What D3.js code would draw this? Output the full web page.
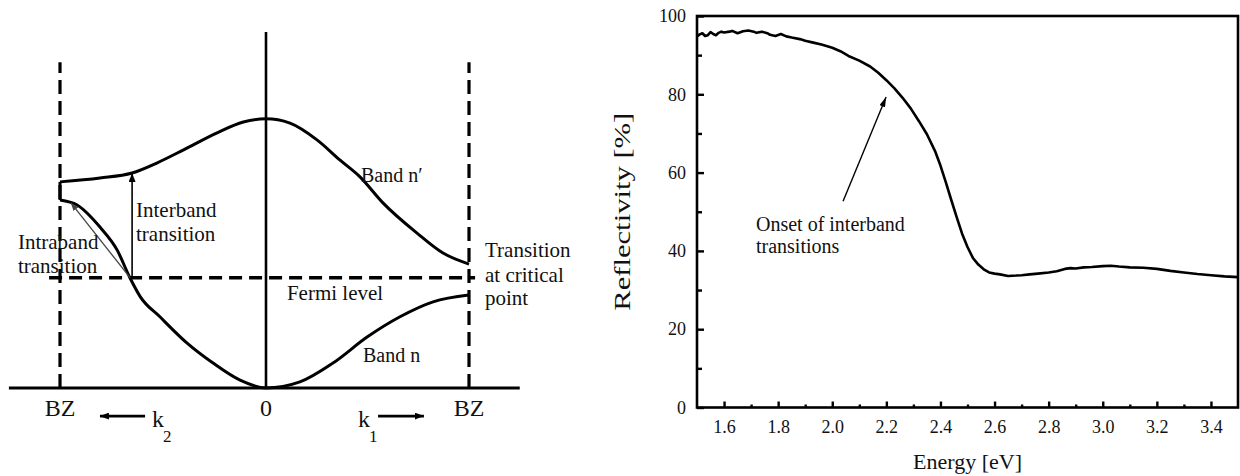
<!DOCTYPE html>
<html><head><meta charset="utf-8">
<script src="https://cdn.jsdelivr.net/npm/d3@7"></script>
<style>
html,body{margin:0;padding:0;background:#fff;}
svg{display:block;}
text{font-family:"Liberation Serif","DejaVu Serif",serif;fill:#111;}
</style></head><body>
<svg id="fig" width="1240" height="476" font-family="Liberation Serif, DejaVu Serif, serif"></svg>
<script>
// ---------- Left panel: schematic band structure E(k) ----------
// k runs from the left zone boundary (-1) through the zone centre (0) to the right boundary (+1)
const bandUpperK = [-1, -0.806, -0.65, -0.53, -0.40, -0.24, -0.11, 0, 0.118, 0.251, 0.365, 0.463, 0.576, 0.744, 0.872, 1];
const bandUpperE = [57.9, 59.0, 60.4, 63.2, 66.9, 71.6, 74.7, 75.6, 74.4, 69.7, 64.0, 59.3, 52.0, 43.5, 37.9, 34.8];
const bandLowerK = [-1, -0.917, -0.806, -0.723, -0.66, -0.61, -0.515, -0.383, -0.257, -0.126, 0, 0.167, 0.33, 0.498, 0.66, 0.823, 1];
const bandLowerE = [52.8, 51.4, 45.2, 38.8, 30.9, 25.6, 20.0, 12.6, 7.0, 2.2, 0, 1.7, 7.0, 14.3, 20.0, 24.2, 26.1];
const fermiE = 31;
const kTickValues = [-1, 0, 1];
const kTickLabels = ["BZ", "0", "BZ"];

// ---------- Right panel: measured reflectivity ----------
const energy = [1.50,1.51,1.52,1.53,1.54,1.55,1.56,1.57,1.58,1.59,1.60,1.62,1.63,1.65,1.67,1.69,1.71,1.72,1.74,1.76,1.77,1.79,1.81,1.83,1.85,1.88,1.90,1.93,1.96,2.00,2.03,2.06,2.10,2.14,2.17,2.20,2.23,2.26,2.29,2.32,2.35,2.38,2.40,2.42,2.44,2.46,2.48,2.50,2.52,2.54,2.56,2.58,2.60,2.62,2.65,2.68,2.70,2.73,2.76,2.80,2.83,2.86,2.88,2.90,2.93,2.96,3.00,3.03,3.06,3.10,3.15,3.20,3.25,3.30,3.35,3.40,3.45,3.50];
const reflectivity = [94.8,95.3,95.6,94.9,95.1,95.9,95.4,95.1,95.7,96.0,95.8,96.0,96.2,95.6,96.1,96.3,96.0,95.7,96.0,95.6,95.2,94.9,95.4,94.8,94.5,94.1,93.7,93.2,92.7,91.9,91.0,89.8,88.6,87.1,85.5,83.6,81.5,79.1,76.4,73.2,69.8,65.5,61.8,57.5,53.0,48.6,44.4,41.0,38.2,36.5,35.3,34.5,34.2,34.0,33.6,33.7,33.8,34.0,34.2,34.5,34.8,35.4,35.6,35.5,35.8,35.9,36.1,36.2,36.0,35.8,35.7,35.4,34.9,34.5,34.1,33.8,33.5,33.3];
const energyTicks = [1.6,1.8,2.0,2.2,2.4,2.6,2.8,3.0,3.2,3.4];
const energyMinorTicks = [1.7,1.9,2.1,2.3,2.5,2.7,2.9,3.1,3.3];
const reflTicks = [0,20,40,60,80,100];
const reflMinorTicks = [10,30,50,70,90];

const svg = d3.select("#fig");
const serif = '"Liberation Serif","DejaVu Serif",serif';

// arrowhead markers
const defs = svg.append("defs");
function marker(id, len, wid, color) {
  defs.append("marker").attr("id", id)
    .attr("viewBox", `0 ${-wid/2} ${len} ${wid}`)
    .attr("refX", len).attr("refY", 0)
    .attr("markerUnits", "userSpaceOnUse")
    .attr("markerWidth", len).attr("markerHeight", wid)
    .attr("orient", "auto")
    .append("path").attr("d", `M0,${-wid/2}L${len},0L0,${wid/2}Z`).attr("fill", color);
}
marker("headBlack", 9, 7, "#000");
marker("headGray", 8, 6, "#444");
marker("headAnno", 10, 6, "#000");

// ===== Left panel =====
const kx = d3.scaleLinear().domain([-1, 0, 1]).range([60, 266, 469]);
const ey = d3.scaleLinear().domain([0, 100]).range([388, 32]);
const L = svg.append("g");

// k axis (baseline)
L.append("line").attr("x1", kx(-1.248)).attr("x2", kx(1.25))
  .attr("y1", ey(0)).attr("y2", ey(0)).attr("stroke", "#000").attr("stroke-width", 3);
// zone-centre axis
L.append("line").attr("x1", kx(0)).attr("x2", kx(0))
  .attr("y1", ey(0)).attr("y2", ey(100)).attr("stroke", "#000").attr("stroke-width", 2.6);
// zone boundaries
[-1, 1].forEach(k => {
  L.append("line").attr("x1", kx(k)).attr("x2", kx(k))
    .attr("y1", ey(0)).attr("y2", ey(91.5))
    .attr("stroke", "#000").attr("stroke-width", 3.2).attr("stroke-dasharray", "14,7");
});
// Fermi level
L.append("line").attr("x1", kx(-1.053)).attr("x2", kx(1.03))
  .attr("y1", ey(fermiE)).attr("y2", ey(fermiE))
  .attr("stroke", "#000").attr("stroke-width", 3.5).attr("stroke-dasharray", "13,7");

// bands
const bandLine = d3.line().x(d => kx(d[0])).y(d => ey(d[1])).curve(d3.curveMonotoneX);
L.append("path").datum(d3.zip(bandUpperK, bandUpperE)).attr("d", bandLine)
  .attr("fill", "none").attr("stroke", "#000").attr("stroke-width", 3);
L.append("path").datum(d3.zip(bandLowerK, bandLowerE)).attr("d", bandLine)
  .attr("fill", "none").attr("stroke", "#000").attr("stroke-width", 3);
// gap at the left zone boundary
L.append("line").attr("x1", kx(-1)).attr("x2", kx(-1))
  .attr("y1", ey(bandLowerE[0])).attr("y2", ey(bandUpperE[0]))
  .attr("stroke", "#000").attr("stroke-width", 3);

// interband (vertical) transition
L.append("line").attr("x1", kx(-0.65)).attr("x2", kx(-0.65))
  .attr("y1", ey(fermiE)).attr("y2", ey(60.4))
  .attr("stroke", "#000").attr("stroke-width", 1.6).attr("marker-end", "url(#headBlack)");
// intraband transition
L.append("line").attr("x1", kx(-0.66)).attr("x2", kx(-0.947))
  .attr("y1", ey(fermiE)).attr("y2", ey(52.0))
  .attr("stroke", "#444").attr("stroke-width", 1.3).attr("marker-end", "url(#headGray)");

// zone labels
kTickValues.forEach((k, i) => {
  L.append("text").attr("x", kx(k)).attr("y", ey(-7.9)).attr("text-anchor", "middle")
    .attr("font-size", 24).text(kTickLabels[i]);
});
// k direction arrows
L.append("line").attr("x1", kx(-0.587)).attr("x2", kx(-0.806)).attr("y1", ey(-7.9)).attr("y2", ey(-7.9))
  .attr("stroke", "#000").attr("stroke-width", 2.6).attr("marker-end", "url(#headBlack)");
L.append("line").attr("x1", kx(0.552)).attr("x2", kx(0.778)).attr("y1", ey(-7.9)).attr("y2", ey(-7.9))
  .attr("stroke", "#000").attr("stroke-width", 2.6).attr("marker-end", "url(#headBlack)");
function kLabel(kk, sub, ks) {
  L.append("text").attr("x", kx(kk)).attr("y", ey(-11.0)).attr("font-size", 24).text("k");
  L.append("text").attr("x", kx(ks)).attr("y", ey(-15.2)).attr("font-size", 17).text(sub);
}
kLabel(-0.553, "2", -0.5);
kLabel(0.453, "1", 0.507);

// annotations
function multiline(g, k, es, lines, size) {
  lines.forEach((t, i) => g.append("text").attr("x", kx(k)).attr("y", ey(es[i])).attr("font-size", size).text(t));
}
multiline(L, 0.468, [57.9], ["Band n\u2032"], 20);
multiline(L, 0.478, [7.3], ["Band n"], 20);
multiline(L, 0.103, [24.7], ["Fermi level"], 21);
multiline(L, -0.631, [48.0, 41.3], ["Interband", "transition"], 21);
multiline(L, -1.204, [39.0, 32.3], ["Intraband", "transition"], 21);
multiline(L, 1.079, [36.8, 29.8, 23.3], ["Transition", "at critical", "point"], 21);

// ===== Right panel =====
const x = d3.scaleLinear().domain([1.5, 3.5]).range([697, 1238]);
const y = d3.scaleLinear().domain([0, 100]).range([407.5, 16]);
const R = svg.append("g");

function styleAxis(g, size) {
  g.select(".domain").remove();
  g.selectAll("line").attr("stroke", "#000").attr("stroke-width", 2.4);
  g.attr("font-family", serif).attr("font-size", size);
  g.selectAll("text").attr("fill", "#111");
}
R.append("g").attr("transform", `translate(0,${y(0)})`)
  .call(d3.axisBottom(x).tickValues(energyTicks).tickSize(-6).tickPadding(13).tickFormat(d3.format(".1f")))
  .call(g => styleAxis(g, 18));
R.append("g").attr("transform", `translate(0,${y(0)})`)
  .call(d3.axisBottom(x).tickValues(energyMinorTicks).tickSize(-3).tickFormat(""))
  .call(g => styleAxis(g, 18));
R.append("g").attr("transform", `translate(${x(1.5)},0)`)
  .call(d3.axisLeft(y).tickValues(reflTicks).tickSize(-7).tickPadding(11).tickFormat(d3.format("d")))
  .call(g => styleAxis(g, 18));
R.append("g").attr("transform", `translate(${x(1.5)},0)`)
  .call(d3.axisLeft(y).tickValues(reflMinorTicks).tickSize(-5).tickFormat(""))
  .call(g => styleAxis(g, 18));

// frame
R.append("rect").attr("x", x(1.5)).attr("y", y(100))
  .attr("width", x(3.5) - x(1.5)).attr("height", y(0) - y(100))
  .attr("fill", "none").attr("stroke", "#000").attr("stroke-width", 2.6);

// spectrum
const specLine = d3.line().x(d => x(d[0])).y(d => y(d[1]));
R.append("path").datum(d3.zip(energy, reflectivity)).attr("d", specLine)
  .attr("fill", "none").attr("stroke", "#000").attr("stroke-width", 2.6)
  .attr("stroke-linejoin", "round");

// annotation
R.append("line").attr("x1", x(2.04)).attr("y1", y(52.7)).attr("x2", x(2.199)).attr("y2", y(79.3))
  .attr("stroke", "#000").attr("stroke-width", 1.4).attr("marker-end", "url(#headAnno)");
R.append("text").attr("x", x(1.718)).attr("y", y(45.1)).attr("font-size", 20).text("Onset of interband");
R.append("text").attr("x", x(1.718)).attr("y", y(39.4)).attr("font-size", 20).text("transitions");

// axis titles
R.append("text").attr("x", (x(1.5) + x(3.5)) / 2).attr("y", 469).attr("text-anchor", "middle")
  .attr("font-size", 22).text("Energy [eV]");
R.append("text").attr("transform", `translate(630,${(y(0) + y(100)) / 2}) rotate(-90)`)
  .attr("text-anchor", "middle").attr("font-size", 24)
  .attr("textLength", 198).attr("lengthAdjust", "spacingAndGlyphs").text("Reflectivity [%]");
</script>
</body></html>
